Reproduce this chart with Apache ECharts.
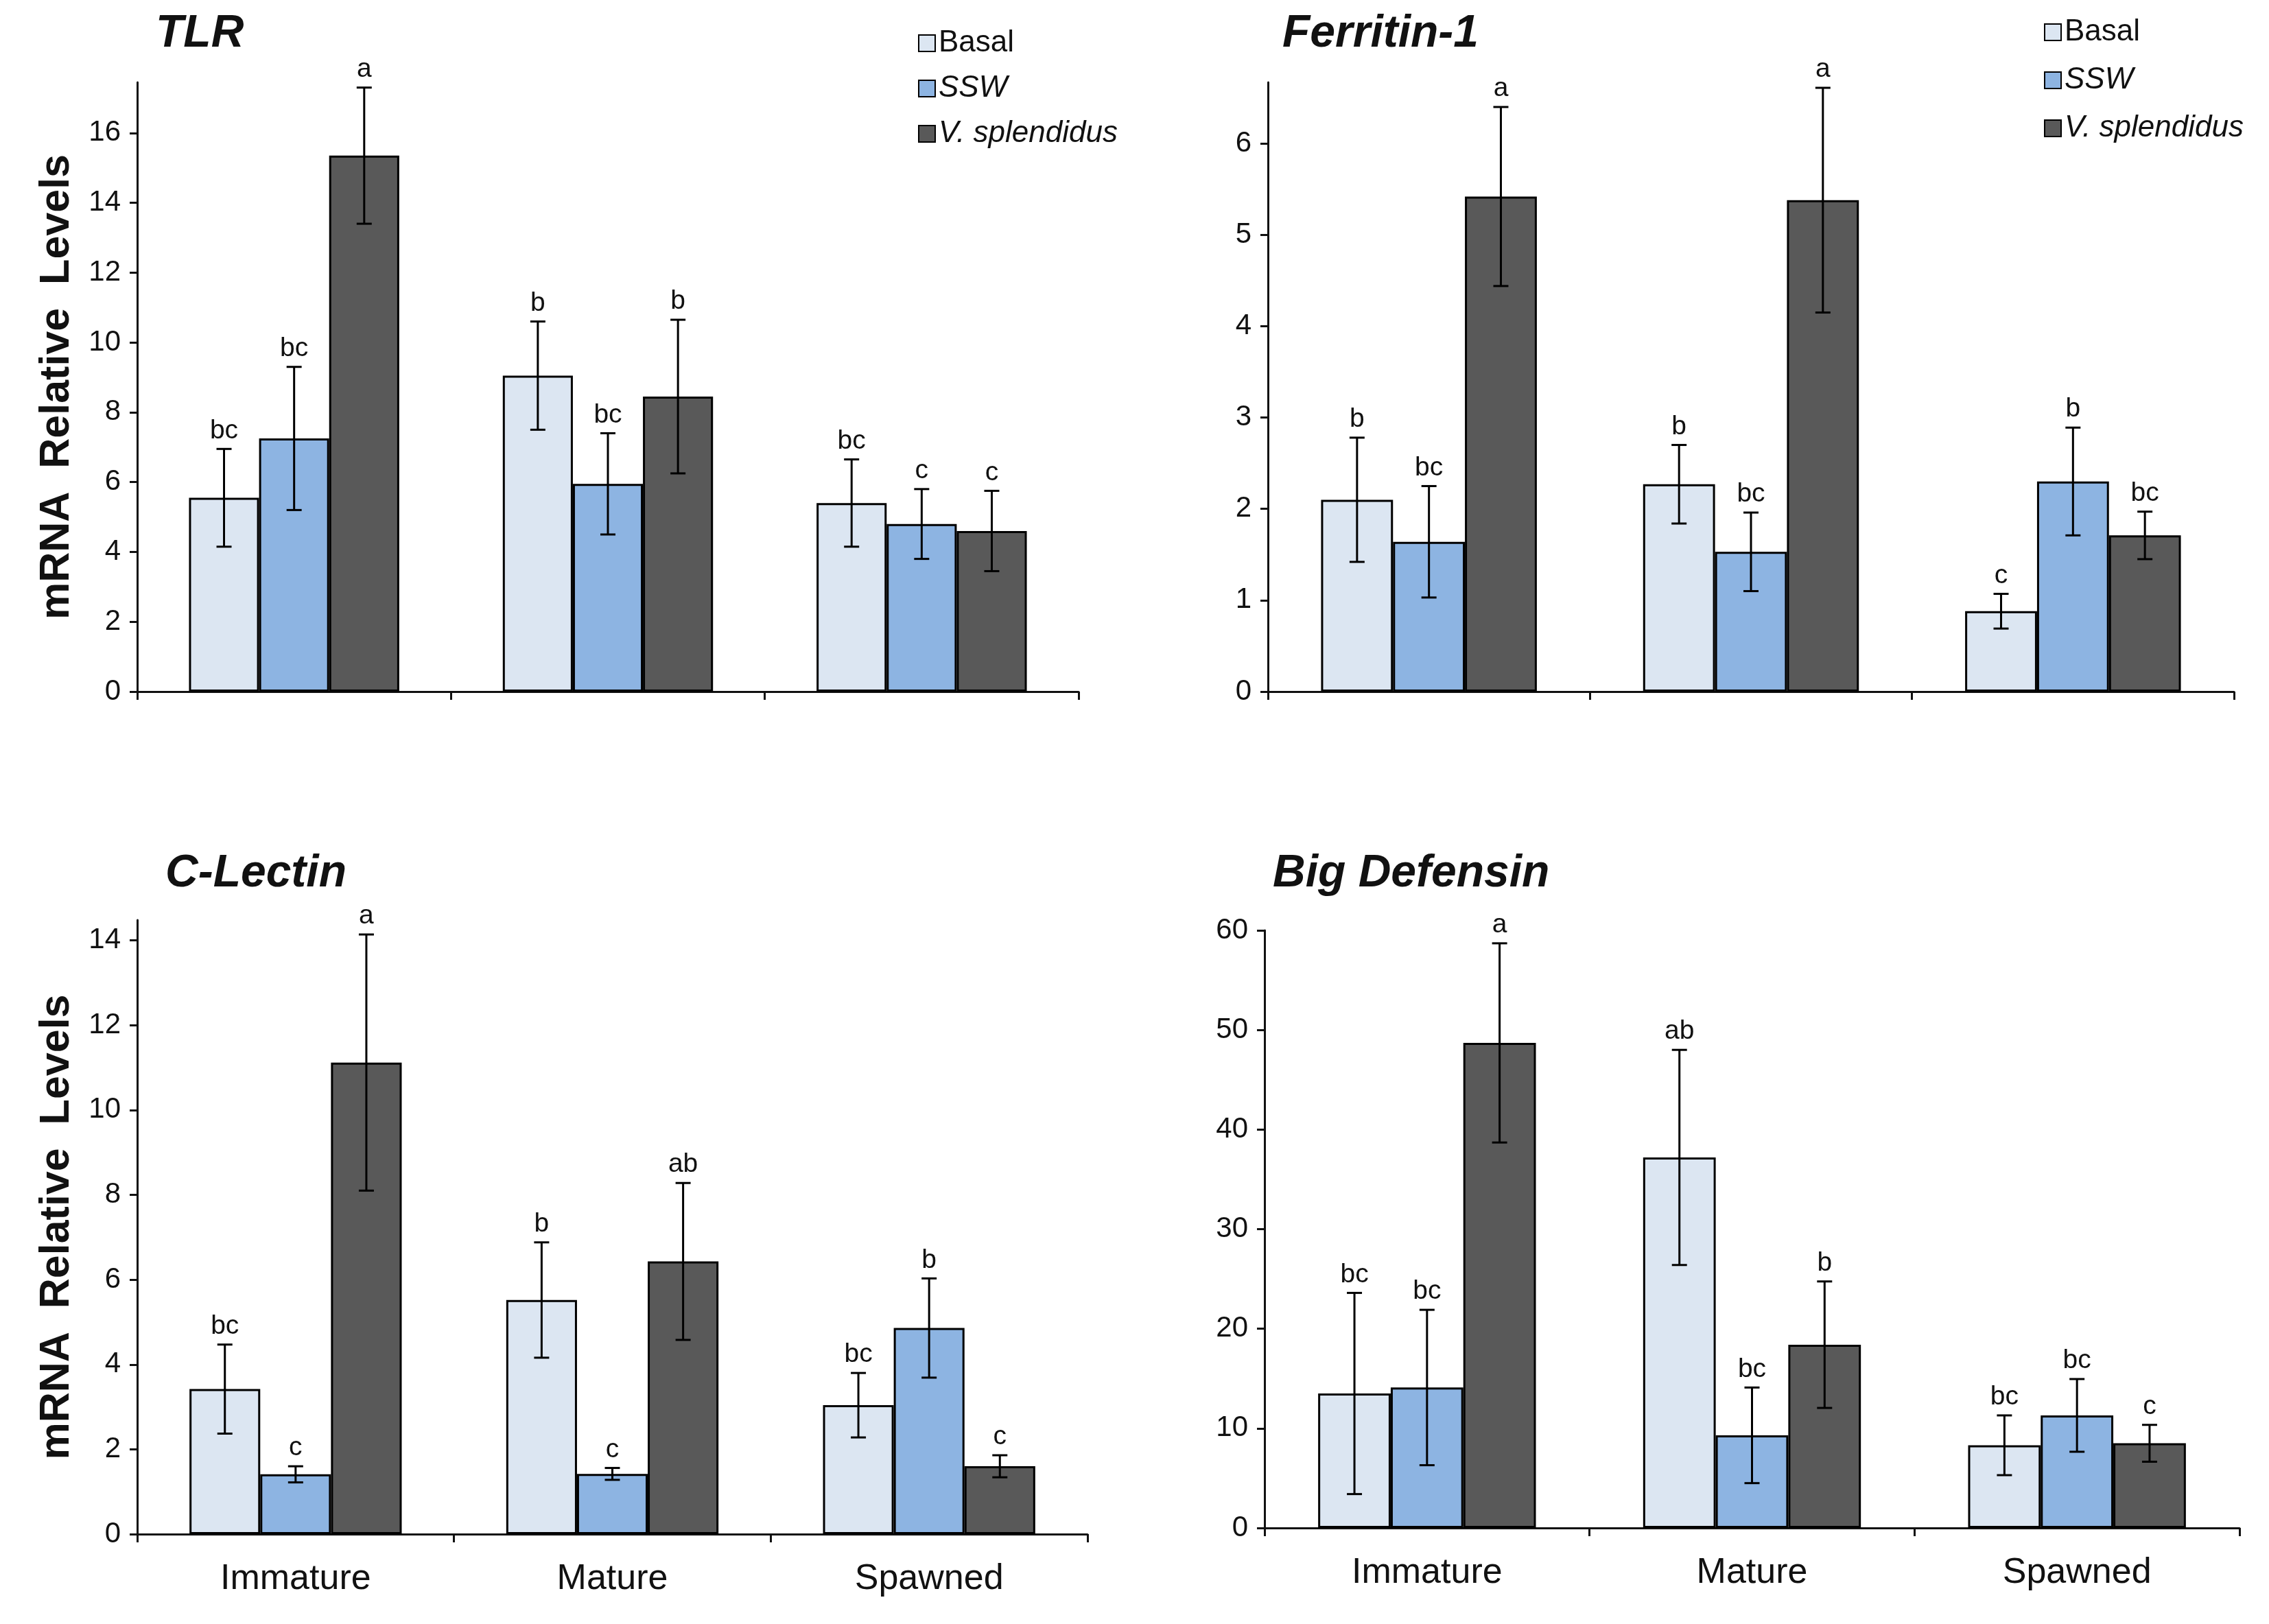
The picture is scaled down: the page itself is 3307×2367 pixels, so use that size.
<!DOCTYPE html>
<html>
<head>
<meta charset="utf-8">
<script src="https://cdn.jsdelivr.net/npm/echarts@6/dist/echarts.min.js"></script>
<style>
  html, body { margin: 0; padding: 0; background: #fff; }
  #chart { width: 3307px; height: 2367px; }
</style>
</head>
<body>
<div id="chart"></div>
<script>
// categories and groups
var stages = ['Immature', 'Mature', 'Spawned'];
var groups = ['Basal', 'SSW', 'V. splendidus'];

// TLR (rows: Basal, SSW, V. splendidus)
var tlrMean = [[5.55, 9.05, 5.4], [7.25, 5.95, 4.8], [15.35, 8.45, 4.6]];
var tlrErr = [[1.4, 1.55, 1.25], [2.05, 1.45, 1.0], [1.95, 2.2, 1.15]];
var tlrLetters = [['bc', 'b', 'bc'], ['bc', 'bc', 'c'], ['a', 'b', 'c']];
var tlrTicks = [0, 2, 4, 6, 8, 10, 12, 14, 16];

// Ferritin-1
var ferMean = [[2.1, 2.27, 0.88], [1.64, 1.53, 2.3], [5.42, 5.38, 1.71]];
var ferErr = [[0.68, 0.43, 0.19], [0.61, 0.43, 0.59], [0.98, 1.23, 0.26]];
var ferLetters = [['b', 'b', 'c'], ['bc', 'bc', 'b'], ['a', 'a', 'bc']];
var ferTicks = [0, 1, 2, 3, 4, 5, 6];

// C-Lectin
var lecMean = [[3.42, 5.52, 3.04], [1.41, 1.42, 4.86], [11.12, 6.43, 1.6]];
var lecErr = [[1.05, 1.36, 0.76], [0.19, 0.14, 1.17], [3.02, 1.85, 0.26]];
var lecLetters = [['bc', 'b', 'bc'], ['c', 'c', 'b'], ['a', 'ab', 'c']];
var lecTicks = [0, 2, 4, 6, 8, 10, 12, 14];

// Big Defensin
var defMean = [[13.5, 37.2, 8.3], [14.1, 9.3, 11.3], [48.7, 18.4, 8.5]];
var defErr = [[10.1, 10.8, 3.0], [7.8, 4.8, 3.65], [10.0, 6.35, 1.85]];
var defLetters = [['bc', 'ab', 'bc'], ['bc', 'bc', 'bc'], ['a', 'b', 'c']];
var defTicks = [0, 10, 20, 30, 40, 50, 60];

var fills = ['#dce6f2', '#8db4e2', '#595959'];
var FONT = "'Liberation Sans', Arial, sans-serif";
var NARROW = "'Liberation Sans Narrow', 'Liberation Sans', Arial, sans-serif";
var GAP = 0.33;

var panels = [
    {title: 'TLR', mean: tlrMean, err: tlrErr, letters: tlrLetters, ticks: tlrTicks, max: 17.45,
     grid: {left: 200, top: 120, width: 1372, height: 888}, titlePos: [222, 12], yName: true, xLabels: false},
    {title: 'Ferritin-1', mean: ferMean, err: ferErr, letters: ferLetters, ticks: ferTicks, max: 6.67,
     grid: {left: 1848, top: 120, width: 1408, height: 888}, titlePos: [1864, 12], yName: false, xLabels: false},
    {title: 'C-Lectin', mean: lecMean, err: lecErr, letters: lecLetters, ticks: lecTicks, max: 14.48,
     grid: {left: 200, top: 1341, width: 1385, height: 895}, titlePos: [236, 1236], yName: true, xLabels: true},
    {title: 'Big Defensin', mean: defMean, err: defErr, letters: defLetters, ticks: defTicks, max: 60,
     grid: {left: 1843, top: 1356, width: 1421, height: 871}, titlePos: [1850, 1236], yName: false, xLabels: true}
];

function errorBars(letters, g) {
    return function (params, api) {
        var cat = api.value(0), mean = api.value(1), err = api.value(2);
        var catW = api.size([1, 0])[0];
        var barW = catW * (1 - GAP) / 3;
        var x = api.coord([cat, 0])[0] + (g - 1) * barW;
        var yTop = api.coord([cat, mean + err])[1];
        var yBot = api.coord([cat, mean - err])[1];
        var cap = 11;
        var ls = {stroke: '#000', lineWidth: 3};
        return {
            type: 'group',
            children: [
                {type: 'line', shape: {x1: x, y1: yTop, x2: x, y2: yBot}, style: ls},
                {type: 'line', shape: {x1: x - cap, y1: yTop, x2: x + cap, y2: yTop}, style: ls},
                {type: 'line', shape: {x1: x - cap, y1: yBot, x2: x + cap, y2: yBot}, style: ls},
                {type: 'text', x: x, y: yTop - 7, style: {
                    text: letters[params.dataIndex], fill: '#111', font: '39px ' + NARROW,
                    align: 'center', verticalAlign: 'bottom'}}
            ]
        };
    };
}

var grids = [], xAxes = [], yAxes = [], series = [], titles = [];
panels.forEach(function (p, i) {
    grids.push(p.grid);
    titles.push({text: p.title, left: p.titlePos[0], top: p.titlePos[1],
        textStyle: {fontFamily: FONT, fontSize: 66, fontWeight: 'bold', fontStyle: 'italic', color: '#111'}});
    xAxes.push({
        type: 'category', gridIndex: i, data: stages,
        axisLine: {lineStyle: {color: '#111', width: 3}},
        axisTick: {show: true, length: 12, lineStyle: {color: '#111', width: 3}},
        axisLabel: {show: p.xLabels, fontFamily: FONT, fontSize: 52, color: '#111', margin: 40}
    });
    yAxes.push({
        type: 'value', gridIndex: i, min: 0, max: p.max, interval: p.ticks[1] - p.ticks[0],
        name: p.yName ? 'mRNA  Relative  Levels' : '',
        nameLocation: 'middle', nameGap: 86,
        nameTextStyle: {fontFamily: FONT, fontSize: 61, fontWeight: 'bold', color: '#111'},
        axisLine: {show: true, lineStyle: {color: '#111', width: 3}},
        axisTick: {show: true, length: 11, lineStyle: {color: '#111', width: 3}, customValues: p.ticks},
        axisLabel: {fontFamily: NARROW, fontSize: 42, color: '#111', margin: 24, customValues: p.ticks},
        splitLine: {show: false}
    });
    groups.forEach(function (gname, g) {
        series.push({
            type: 'bar', name: gname, xAxisIndex: i, yAxisIndex: i,
            data: p.mean[g], barGap: '0%', barCategoryGap: '33%',
            itemStyle: {color: fills[g], borderColor: '#000', borderWidth: 3},
            emphasis: {disabled: true}
        });
    });
    groups.forEach(function (gname, g) {
        series.push({
            type: 'custom', name: 'err', xAxisIndex: i, yAxisIndex: i, z: 5,
            renderItem: errorBars(p.letters[g], g),
            data: p.mean[g].map(function (m, k) { return [k, m, p.err[g][k]]; })
        });
    });
});

function legendAt(left, top, gap) {
    return {
        left: left, top: top, orient: 'vertical', itemGap: gap, itemWidth: 24, itemHeight: 24,
        itemTextGap: 8, icon: 'rect', selectedMode: false,
        data: groups,
        formatter: function (name) { return name === 'Basal' ? name : '{i|' + name + '}'; },
        textStyle: {fontFamily: FONT, fontSize: 44, color: '#111',
            rich: {i: {fontFamily: FONT, fontSize: 44, fontStyle: 'italic', color: '#111'}}}
    };
}

var chart = echarts.init(document.getElementById('chart'), null, {renderer: 'canvas'});
chart.setOption({
    backgroundColor: '#fff',
    animation: false,
    title: titles,
    legend: [legendAt(1333, 36, 22), legendAt(2974, 20, 26)],
    grid: grids,
    xAxis: xAxes,
    yAxis: yAxes,
    series: series
});
</script>
</body>
</html>
